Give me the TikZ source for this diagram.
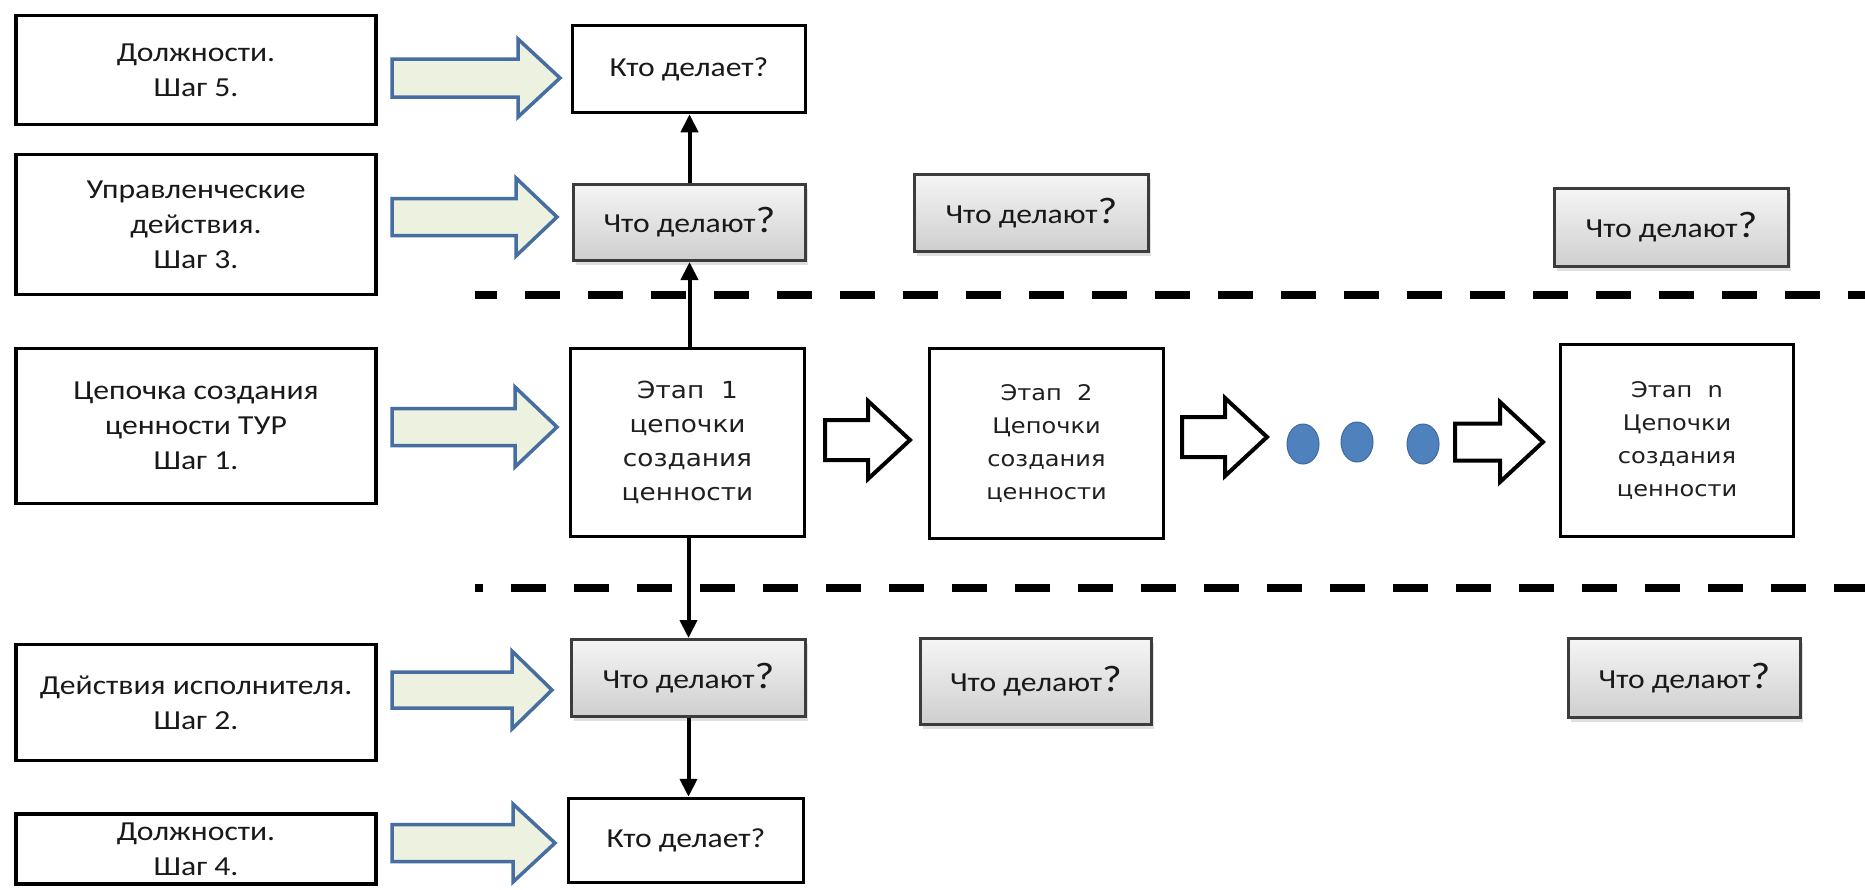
\documentclass[tikz,border=0pt]{standalone}
\usepackage{fontspec}
\setmainfont{Carlito}[FakeStretch=1.15]
\newfontfamily\stagefont{DejaVu Sans}[FakeStretch=1.12]
\usetikzlibrary{arrows.meta,shadows}
\definecolor{gfill}{RGB}{236,241,224}
\definecolor{gline}{RGB}{70,110,160}
\definecolor{dotfill}{RGB}{79,129,189}
\definecolor{dotline}{RGB}{60,105,160}
\definecolor{gborder}{RGB}{60,60,60}
\newcommand\blockarr[7]{%
  \draw[#1] (#2,#5-#6) -- (#4,#5-#6) -- (#4,#5-#7) -- (#3,#5) -- (#4,#5+#7) -- (#4,#5+#6) -- (#2,#5+#6) -- cycle;}
\newcommand\qm{{\fontsize{37}{37}\selectfont ?}}
\tikzset{
  txt/.style={font=\fontsize{27.5}{35}\selectfont, align=center, text=black!90},
  lbox/.style={draw, line width=3.5pt, fill=white, txt, inner sep=0pt},
  wbox/.style={draw=gborder, line width=3pt, top color=gray!8, bottom color=gray!38, txt, inner sep=0pt,
     drop shadow={shadow xshift=2pt, shadow yshift=-4pt, opacity=0.25}},
  stagebox/.style={draw, line width=3.5pt, fill=white, align=center, inner sep=0pt,
     font=\stagefont\fontsize{21.5}{33}\selectfont, text=black!88},
  bigstage/.style={stagebox, font=\stagefont\fontsize{23.5}{34}\selectfont},
  garrow/.style={draw=gline, line width=3.5pt, fill=gfill, line join=miter},
  harrow/.style={draw=black, line width=4pt, fill=white, line join=miter},
  conn/.style={line width=4pt, -{Triangle[length=18pt,width=17pt]}},
  sep/.style={line width=8pt, dash pattern=on 35pt off 28pt}
}
\begin{document}
\begin{tikzpicture}[x=1pt,y=-1pt]
\useasboundingbox (0,0) rectangle (1865,889);
\fill[white] (0,0) rectangle (1865,889);
% left boxes
\node[lbox, minimum width=360pt, minimum height=109pt] (A) at (196,70) {Должности.\\Шаг 5.};
\node[lbox, minimum width=360pt, minimum height=140pt] (B) at (196,224.5) {Управленческие\\действия.\\Шаг 3.};
\node[lbox, minimum width=360pt, minimum height=155pt] (C) at (196,426) {Цепочка создания\\ценности ТУР\\Шаг 1.};
\node[lbox, minimum width=360pt, minimum height=116pt] (D) at (196,702.5) {Действия исполнителя.\\Шаг 2.};
\node[lbox, minimum width=360pt, minimum height=70pt] (E) at (196,849) {Должности.\\Шаг 4.};
% column 1
\node[lbox, minimum width=233pt, minimum height=87pt] (K1) at (689,69) {Кто делает?};
\node[wbox, minimum width=232pt, minimum height=76pt] (W1) at (689.5,222.5) {Что делают\qm};
\node[bigstage, minimum width=234pt, minimum height=188pt] (S1) at (687.5,442.5) {Этап~~1\\цепочки\\создания\\ценности};
\node[wbox, minimum width=234pt, minimum height=77pt] (W4) at (688.5,678) {Что делают\qm};
\node[lbox, minimum width=235pt, minimum height=84pt] (K2) at (686,840.5) {Кто делает?};
% column 2
\node[wbox, minimum width=234pt, minimum height=77pt] (W2) at (1031.5,213) {Что делают\qm};
\node[stagebox, minimum width=234pt, minimum height=190pt] (S2) at (1046.5,443.5) {Этап~~2\\ Цепочки\\создания\\ценности};
\node[wbox, minimum width=231pt, minimum height=86pt] (W5) at (1036,681.5) {Что делают\qm};
% column 3
\node[wbox, minimum width=234pt, minimum height=78pt] (W3) at (1671.5,227.5) {Что делают\qm};
\node[stagebox, minimum width=233pt, minimum height=192pt] (SN) at (1677,440.5) {Этап~~n\\Цепочки\\создания\\ценности};
\node[wbox, minimum width=232pt, minimum height=79pt] (W6) at (1684.5,678) {Что делают\qm};
% separators
\draw[sep, dash phase=13pt] (475,295) -- (1865,295);
\draw[sep, dash phase=27pt] (475,588) -- (1865,588);
% vertical connectors
\draw[conn] (W1.north) -- (W1.north |- K1.south);
\draw[conn] (S1.north -| W1.south) -- (W1.south);
\draw[conn] (S1.south -| W4.north) -- (W4.north);
\draw[conn] (W4.south) -- (W4.south |- K2.north);
% green block arrows
\blockarr{garrow}{392}{560}{518}{78}{19}{39}
\blockarr{garrow}{392}{557}{516}{217}{18.5}{39}
\blockarr{garrow}{392}{557}{515}{427}{18.5}{40}
\blockarr{garrow}{392}{552}{512}{690}{18}{39}
\blockarr{garrow}{392}{555}{513}{843}{18.5}{39}
% hollow block arrows
\blockarr{harrow}{825}{910}{868}{440}{20}{39}
\blockarr{harrow}{1182}{1267}{1225}{437}{20}{39}
\blockarr{harrow}{1455}{1543}{1500}{442}{18.5}{40}
% dots
\fill[dotfill, draw=dotline, line width=1pt] (1303,444) ellipse [x radius=16, y radius=20];
\fill[dotfill, draw=dotline, line width=1pt] (1357,442) ellipse [x radius=16, y radius=20];
\fill[dotfill, draw=dotline, line width=1pt] (1423,444) ellipse [x radius=16, y radius=20];
\end{tikzpicture}
\end{document}
